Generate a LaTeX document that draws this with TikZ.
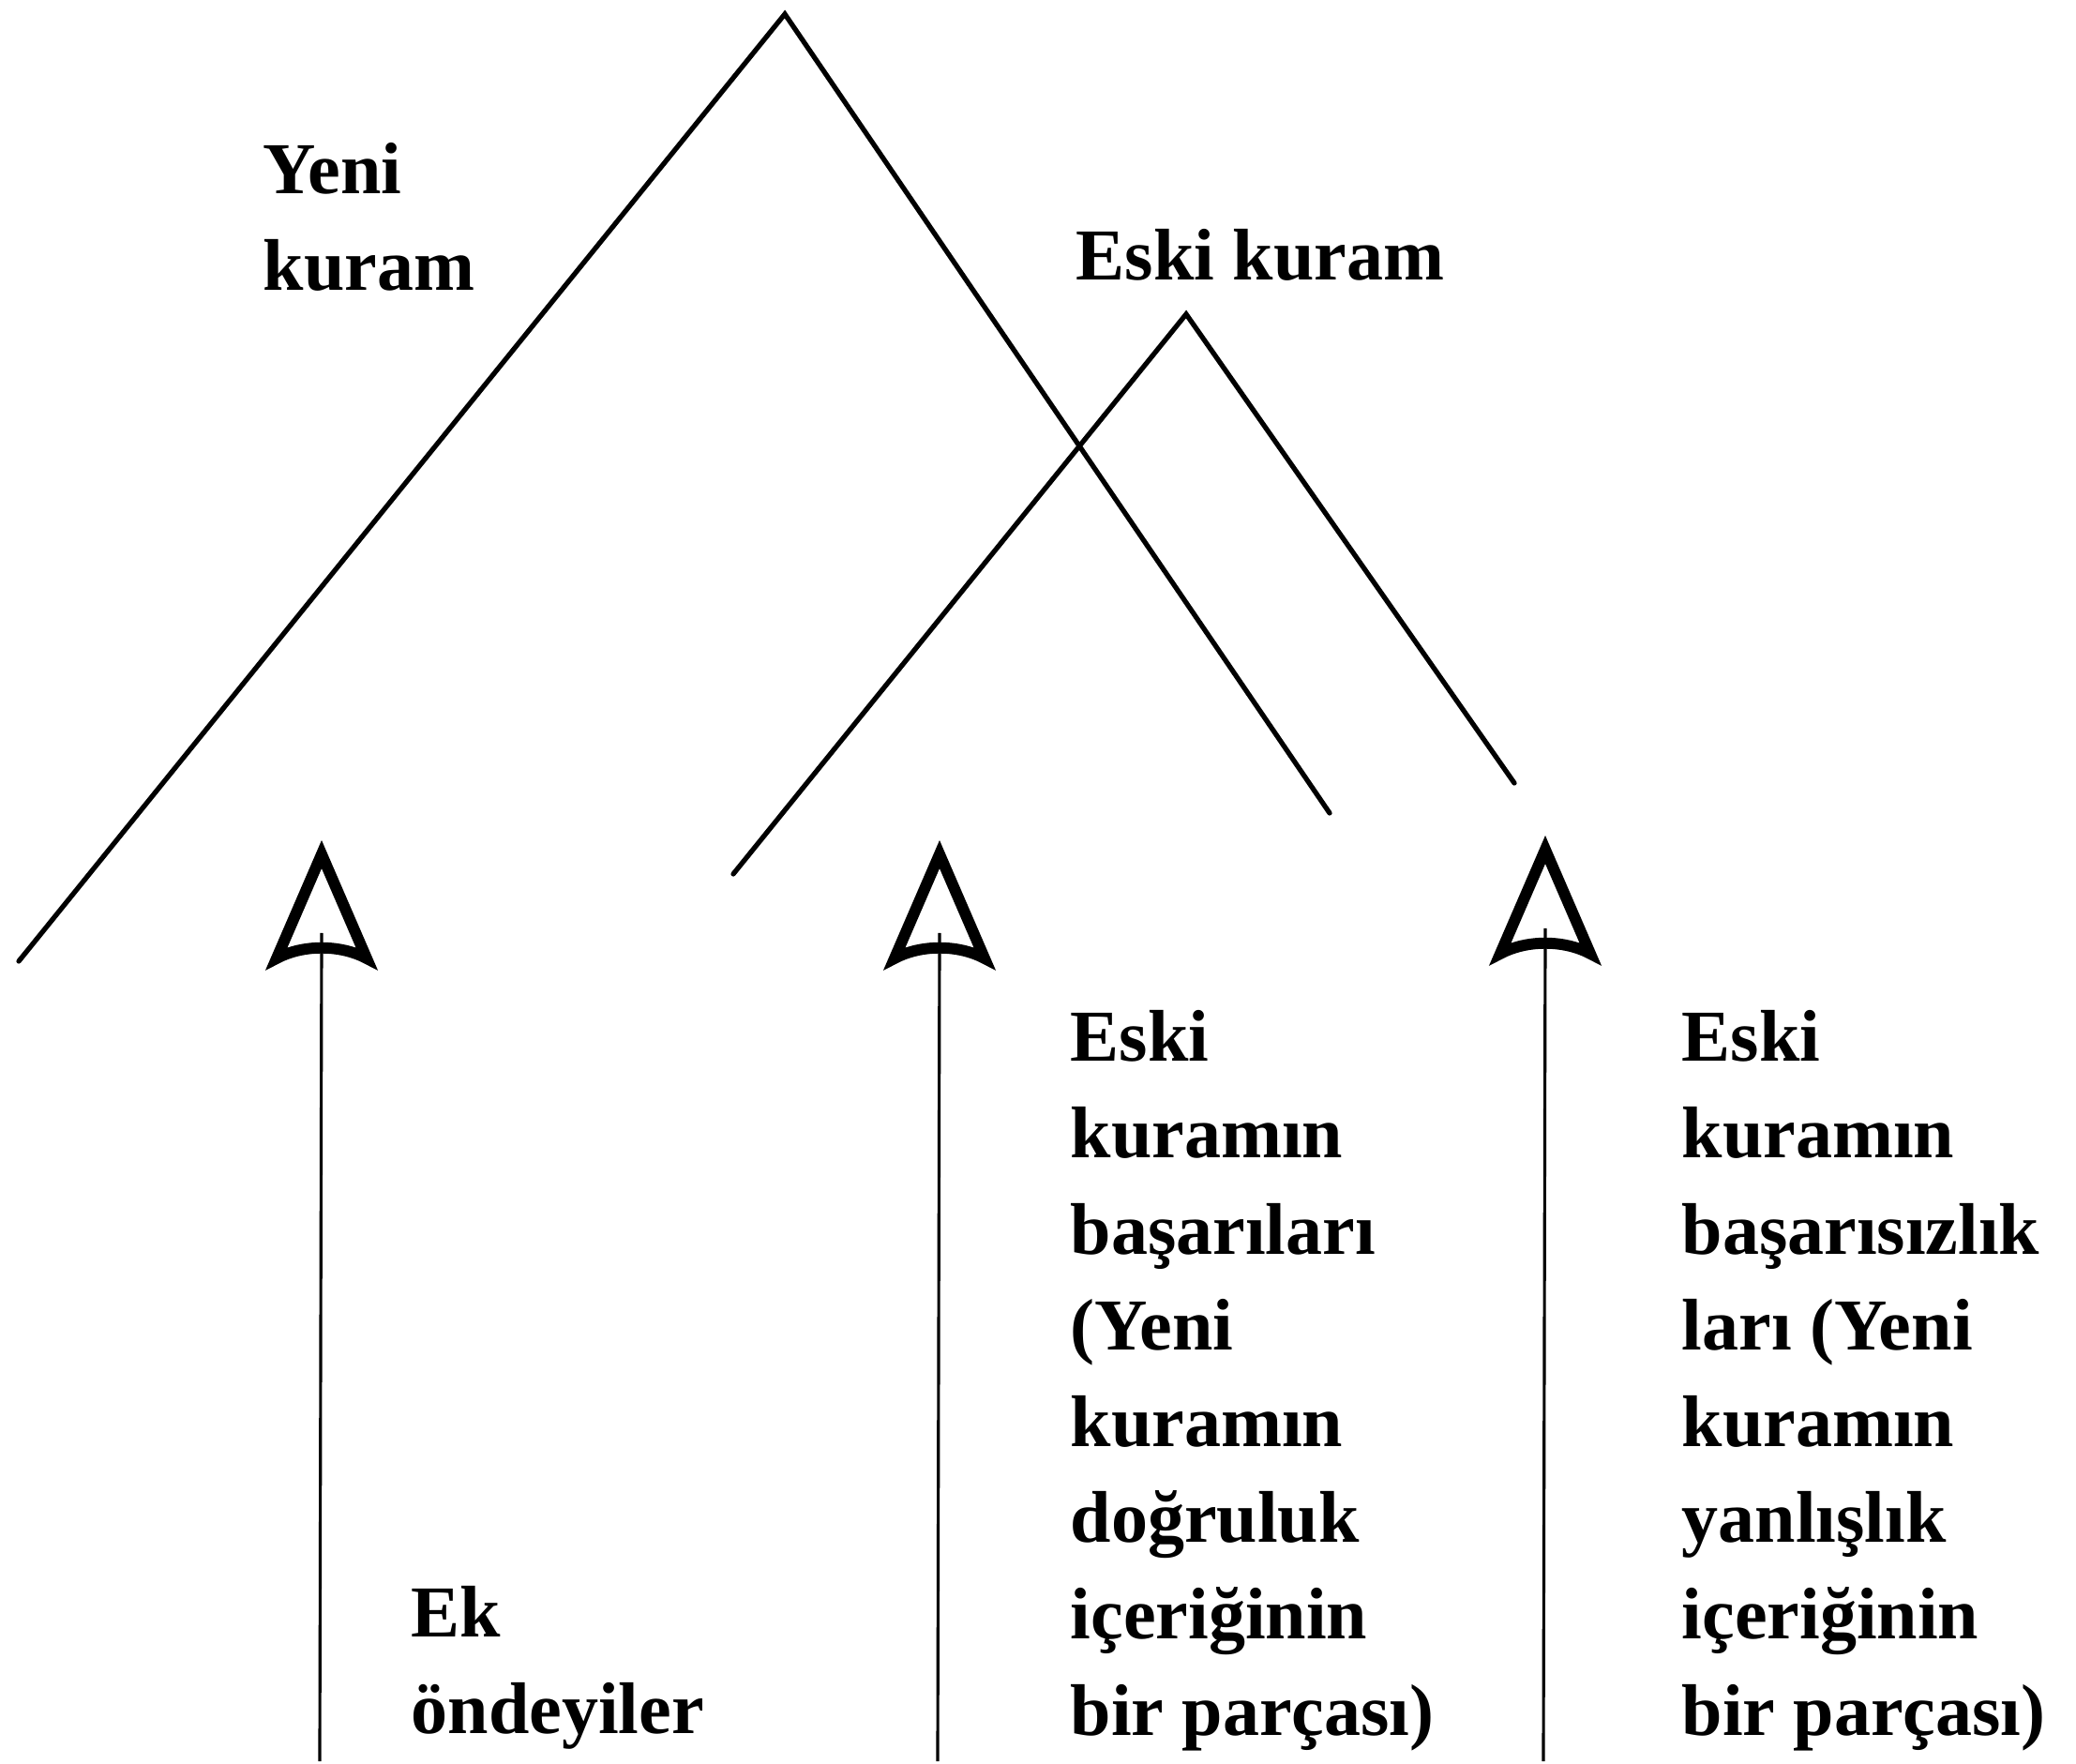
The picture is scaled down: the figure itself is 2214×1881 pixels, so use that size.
\documentclass[tikz,border=0pt]{standalone}
\usepackage{fontspec}
\setmainfont{Liberation Serif}
\begin{document}
\begin{tikzpicture}[x=0.1mm,y=-0.1mm,
  theory/.style={line width=1.5pt, line cap=round},
  shaft/.style={line width=0.9pt},
  openhead/.pic={\draw[line width=3.4pt, line join=miter]
      (0,16) -- (-48,127) .. controls (-20,112) and (20,112) .. (48,127) -- cycle;},
  lbl/.style={anchor=north west, inner sep=0pt, align=left,
      font=\fontsize{22.2}{29.2}\selectfont\bfseries}]
\useasboundingbox (0,0) rectangle (2214,1881);

% the new theory (large wedge) and the old theory (small wedge)
\coordinate (newApex) at (837,15);
\coordinate (newL) at (20,1025);
\coordinate (newR) at (1418,867);
\coordinate (oldApex) at (1265,335);
\coordinate (oldL) at (782,932);
\coordinate (oldR) at (1615,835);
\draw[theory] (newL) -- (newApex) -- (newR);
\draw[theory] (oldL) -- (oldApex) -- (oldR);

% upward arrows with open heads
\coordinate (footA) at (341,1878);
\coordinate (tipA) at (343,895);
\coordinate (footB) at (1000,1878);
\coordinate (tipB) at (1002,895);
\coordinate (footC) at (1646,1878);
\coordinate (tipC) at (1648,890);
\draw[shaft] (footA) -- ([yshift=-1.0cm]tipA);
\draw[shaft] (footB) -- ([yshift=-1.0cm]tipB);
\draw[shaft] (footC) -- ([yshift=-1.0cm]tipC);
\pic at (tipA) {openhead};
\pic at (tipB) {openhead};
\pic at (tipC) {openhead};

% labels
\node[lbl] (newlbl) at (280,152) {Yeni\\kuram};
\node[lbl] (oldlbl) at (1147,244) {Eski kuram};
\node[lbl] (extra) at (438,1691) {Ek\\öndeyiler};
\node[lbl] (success) at (1141,1077) {Eski\\kuramın\\başarıları\\(Yeni\\kuramın\\doğruluk\\içeriğinin\\bir parçası)};
\node[lbl] (failure) at (1793,1077) {Eski\\kuramın\\başarısızlık\\ları (Yeni\\kuramın\\yanlışlık\\içeriğinin\\bir parçası)};
\end{tikzpicture}
\end{document}
